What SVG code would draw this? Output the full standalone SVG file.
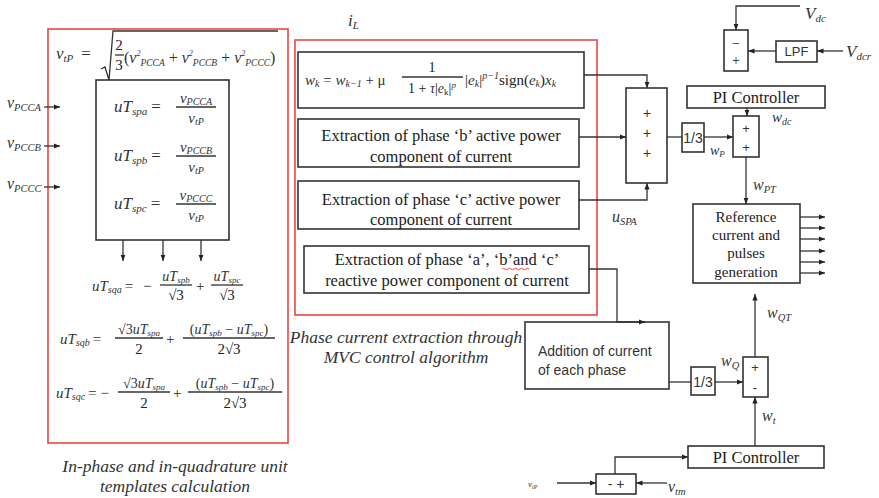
<svg xmlns="http://www.w3.org/2000/svg" width="879" height="498" viewBox="0 0 879 498">
<defs>
<style>
.red{fill:none;stroke:#ee4444;stroke-width:1.6}
.box{fill:#fff;stroke:#333;stroke-width:1.6}
.ln{fill:none;stroke:#333;stroke-width:1.3}
.m{font-family:"Liberation Serif",serif;font-style:italic;fill:#333}
.r{font-family:"Liberation Serif",serif;fill:#222}
.s{font-family:"Liberation Sans",sans-serif;fill:#333}
.cap{font-family:"Liberation Serif",serif;font-style:italic;fill:#333;font-size:17.5px}
.up{font-family:"Liberation Serif",serif;font-style:normal}
</style>
<marker id="a" viewBox="0 0 10 10" refX="10" refY="5" markerWidth="5" markerHeight="5" orient="auto"><path d="M0,1 L10,5 L0,9 z" fill="#222"/></marker>
</defs>
<rect width="879" height="498" fill="#fff"/>

<g id="templates">
<rect class="red" x="48" y="29" width="240" height="414"/>
<text class="m" x="56" y="59" font-size="17">v<tspan font-size="11" dy="3">tP</tspan><tspan class="up" dy="-3" dx="8">=</tspan></text>
<path class="ln" d="M101,69 L105,67 L109,80 L113,31 L278,31"/>
<text class="r" x="119" y="50" font-size="15" text-anchor="middle">2</text>
<line class="ln" x1="115" y1="55" x2="124" y2="55"/>
<text class="r" x="119" y="70" font-size="15" text-anchor="middle">3</text>
<text class="m" x="124" y="63" font-size="16"><tspan class="up">(</tspan>v<tspan font-size="8" dy="-7">2</tspan><tspan font-size="9.5" dy="10">PCCA</tspan><tspan class="up" dy="-3"> + </tspan>v<tspan font-size="8" dy="-7">2</tspan><tspan font-size="9.5" dy="10">PCCB</tspan><tspan class="up" dy="-3"> + </tspan>v<tspan font-size="8" dy="-7">2</tspan><tspan font-size="9.5" dy="10">PCCC</tspan><tspan class="up" dy="-3">)</tspan></text>
<rect class="box" x="96" y="80" width="133" height="160"/>
<text class="m" x="114" y="112" font-size="17">uT<tspan font-size="11" dy="3">spa</tspan><tspan class="up" dy="-3" dx="4">=</tspan></text>
<text class="m" x="196" y="103" font-size="15" text-anchor="middle">v<tspan font-size="10" dy="2">PCCA</tspan></text>
<line class="ln" x1="176" y1="107" x2="216" y2="107"/>
<text class="m" x="196" y="123" font-size="15" text-anchor="middle">v<tspan font-size="10" dy="2">tP</tspan></text>
<text class="m" x="114" y="161" font-size="17">uT<tspan font-size="11" dy="3">spb</tspan><tspan class="up" dy="-3" dx="4">=</tspan></text>
<text class="m" x="196" y="152" font-size="15" text-anchor="middle">v<tspan font-size="10" dy="2">PCCB</tspan></text>
<line class="ln" x1="176" y1="156" x2="216" y2="156"/>
<text class="m" x="196" y="172" font-size="15" text-anchor="middle">v<tspan font-size="10" dy="2">tP</tspan></text>
<text class="m" x="114" y="209" font-size="17">uT<tspan font-size="11" dy="3">spc</tspan><tspan class="up" dy="-3" dx="4">=</tspan></text>
<text class="m" x="196" y="200" font-size="15" text-anchor="middle">v<tspan font-size="10" dy="2">PCCC</tspan></text>
<line class="ln" x1="176" y1="204" x2="216" y2="204"/>
<text class="m" x="196" y="220" font-size="15" text-anchor="middle">v<tspan font-size="10" dy="2">tP</tspan></text>

<text class="m" x="92" y="291" font-size="15">uT<tspan font-size="10" dy="2">sqa</tspan><tspan class="up" dy="-2" dx="3">=</tspan></text>
<text class="r" x="143" y="291" font-size="15">−</text>
<text class="m" x="176" y="281" font-size="14" text-anchor="middle">uT<tspan font-size="9" dy="2">spb</tspan></text>
<line class="ln" x1="160" y1="285" x2="192" y2="285"/>
<text class="r" x="176" y="300" font-size="15" text-anchor="middle">√3</text>
<text class="r" x="196" y="291" font-size="15">+</text>
<text class="m" x="227" y="281" font-size="14" text-anchor="middle">uT<tspan font-size="9" dy="2">spc</tspan></text>
<line class="ln" x1="211" y1="285" x2="243" y2="285"/>
<text class="r" x="227" y="300" font-size="15" text-anchor="middle">√3</text>

<text class="m" x="60" y="344" font-size="15">uT<tspan font-size="10" dy="2">sqb</tspan><tspan class="up" dy="-2" dx="3">=</tspan></text>
<text class="m" x="139" y="334" font-size="14" text-anchor="middle"><tspan class="up">√3</tspan>uT<tspan font-size="9" dy="2">spa</tspan></text>
<line class="ln" x1="115" y1="338" x2="163" y2="338"/>
<text class="r" x="139" y="354" font-size="15" text-anchor="middle">2</text>
<text class="r" x="166" y="344" font-size="15">+</text>
<text class="m" x="229" y="334" font-size="14" text-anchor="middle"><tspan class="up">(</tspan>uT<tspan font-size="9" dy="2">spb</tspan><tspan class="up" dy="-2"> − </tspan>uT<tspan font-size="9" dy="2">spc</tspan><tspan class="up" dy="-2">)</tspan></text>
<line class="ln" x1="183" y1="338" x2="275" y2="338"/>
<text class="r" x="229" y="354" font-size="15" text-anchor="middle">2√3</text>

<text class="m" x="56" y="398" font-size="15">uT<tspan font-size="10" dy="2">sqc</tspan><tspan class="up" dy="-2" dx="3">=  −</tspan></text>
<text class="m" x="144" y="388" font-size="14" text-anchor="middle"><tspan class="up">√3</tspan>uT<tspan font-size="9" dy="2">spa</tspan></text>
<line class="ln" x1="118" y1="392" x2="170" y2="392"/>
<text class="r" x="144" y="408" font-size="15" text-anchor="middle">2</text>
<text class="r" x="173" y="398" font-size="15">+</text>
<text class="m" x="235" y="388" font-size="14" text-anchor="middle"><tspan class="up">(</tspan>uT<tspan font-size="9" dy="2">spb</tspan><tspan class="up" dy="-2"> − </tspan>uT<tspan font-size="9" dy="2">spc</tspan><tspan class="up" dy="-2">)</tspan></text>
<line class="ln" x1="188" y1="392" x2="282" y2="392"/>
<text class="r" x="235" y="408" font-size="15" text-anchor="middle">2√3</text>

<text class="cap" x="175" y="472" text-anchor="middle">In-phase and in-quadrature unit</text>
<text class="cap" x="175" y="492" text-anchor="middle">templates calculation</text>
</g>

<g id="inputs">
<text class="m" x="7" y="108" font-size="16">v<tspan font-size="10.5" dy="3">PCCA</tspan></text>
<text class="m" x="7" y="148" font-size="16">v<tspan font-size="10.5" dy="3">PCCB</tspan></text>
<text class="m" x="7" y="189" font-size="16">v<tspan font-size="10.5" dy="3">PCCC</tspan></text>
</g>

<g id="mvc">
<rect class="red" x="295" y="40" width="302" height="275"/>
<text class="m" x="348" y="26" font-size="17">i<tspan font-size="11" dy="3">L</tspan></text>
<rect class="box" x="298" y="52" width="286" height="56"/>
<text class="m" x="305" y="85" font-size="15">w<tspan font-size="10" dy="2">k</tspan><tspan class="up" dy="-2"> = </tspan>w<tspan font-size="10" dy="2">k−1</tspan><tspan class="up" dy="-2"> + μ</tspan></text>
<text class="r" x="432" y="72" font-size="14" text-anchor="middle">1</text>
<line class="ln" x1="402" y1="77" x2="463" y2="77"/>
<text class="r" x="432" y="93" font-size="14" text-anchor="middle">1 + <tspan class="m">τ</tspan>|<tspan class="m">e</tspan><tspan font-size="9" dy="2">k</tspan><tspan dy="-2">|</tspan><tspan class="m" font-size="9" dy="-5">p</tspan></text>
<text class="r" x="465" y="85" font-size="15">|<tspan class="m">e</tspan><tspan class="m" font-size="10" dy="2">k</tspan><tspan dy="-2">|</tspan><tspan class="m" font-size="10" dy="-6">p−1</tspan><tspan dy="6">sign(</tspan><tspan class="m">e</tspan><tspan class="m" font-size="10" dy="2">k</tspan><tspan dy="-2">)</tspan><tspan class="m">x</tspan><tspan class="m" font-size="10" dy="2">k</tspan></text>
<rect class="box" x="298" y="119" width="281" height="48"/>
<text class="r" x="441" y="141" font-size="16.5" text-anchor="middle">Extraction of phase ‘b’ active power</text>
<text class="r" x="441" y="162" font-size="16.5" text-anchor="middle">component of current</text>
<rect class="box" x="298" y="181" width="281" height="48"/>
<text class="r" x="441" y="205" font-size="16.5" text-anchor="middle">Extraction of phase ‘c’ active power</text>
<text class="r" x="441" y="225" font-size="16.5" text-anchor="middle">component of current</text>
<rect class="box" x="304" y="246" width="285" height="47"/>
<text class="r" x="447" y="265" font-size="16.5" text-anchor="middle">Extraction of phase ‘a’, ‘b’and ‘c’</text>
<text class="r" x="447" y="286" font-size="16.5" text-anchor="middle">reactive power component of current</text>
<path d="M502,269 q1.5,-1.5 3,0 t3,0 t3,0 t3,0 t3,0 t3,0 t3,0 t3,0 t3,0" fill="none" stroke="#e33" stroke-width="0.9"/>
<text class="cap" x="406" y="343" text-anchor="middle">Phase current extraction through</text>
<text class="cap" x="406" y="363" text-anchor="middle">MVC control algorithm</text>
</g>

<g id="sum3">
<rect class="box" x="626" y="88" width="41" height="95"/>
<text class="s" x="647" y="118" font-size="14" text-anchor="middle" fill="#6a4a20">+</text>
<text class="s" x="647" y="138" font-size="14" text-anchor="middle" fill="#6a4a20">+</text>
<text class="s" x="647" y="158" font-size="14" text-anchor="middle" fill="#6a4a20">+</text>
<text class="m" x="612" y="222" font-size="16">u<tspan font-size="10.5" dy="3">SPA</tspan></text>
</g>

<g id="div1">
<rect class="box" x="682" y="123" width="22" height="29"/>
<text class="s" x="693" y="143" font-size="14" text-anchor="middle">1/3</text>
<text class="m" x="710" y="155" font-size="14">w<tspan font-size="9" dy="2">P</tspan></text>
</g>

<g id="sumP">
<rect class="box" x="733" y="116" width="26" height="41"/>
<text class="s" x="746" y="133" font-size="13" text-anchor="middle">+</text>
<text class="s" x="746" y="152" font-size="13" text-anchor="middle">+</text>
<text class="m" x="772" y="122" font-size="15">w<tspan font-size="10" dy="3">dc</tspan></text>
<text class="m" x="753" y="190" font-size="16">w<tspan font-size="10.5" dy="3">PT</tspan></text>
</g>

<g id="pi1">
<rect class="box" x="687" y="86" width="138" height="22"/>
<text class="r" x="756" y="103" font-size="16.5" text-anchor="middle">PI Controller</text>
</g>

<g id="subdc">
<rect class="box" x="724" y="30" width="24" height="41"/>
<text class="r" x="736" y="48" font-size="14" text-anchor="middle">−</text>
<text class="r" x="736" y="65" font-size="14" text-anchor="middle">+</text>
<text class="m" x="805" y="19" font-size="17">V<tspan font-size="11" dy="3">dc</tspan></text>
<text class="m" x="846" y="57" font-size="17">V<tspan font-size="11" dy="3">dcr</tspan></text>
</g>

<g id="lpf">
<rect class="box" x="776" y="41" width="41" height="21"/>
<text class="s" x="796.5" y="56" font-size="13" text-anchor="middle">LPF</text>
</g>

<g id="ref">
<rect class="box" x="693" y="204" width="107" height="79"/>
<text class="r" x="746" y="222" font-size="15" text-anchor="middle">Reference</text>
<text class="r" x="746" y="240" font-size="15" text-anchor="middle">current and</text>
<text class="r" x="746" y="258" font-size="15" text-anchor="middle">pulses</text>
<text class="r" x="746" y="277" font-size="15" text-anchor="middle">generation</text>
</g>

<g id="addition">
<rect class="box" x="525" y="322" width="144" height="67"/>
<text class="s" x="538" y="356" font-size="14">Addition of current</text>
<text class="s" x="538" y="375" font-size="14">of each phase</text>
</g>

<g id="div2">
<rect class="box" x="691" y="367" width="24" height="28"/>
<text class="s" x="703" y="387" font-size="14" text-anchor="middle">1/3</text>
<text class="m" x="721" y="366" font-size="16">w<tspan font-size="10.5" dy="3">Q</tspan></text>
</g>

<g id="sumQ">
<rect class="box" x="743" y="357" width="25" height="40"/>
<text class="s" x="755" y="372" font-size="13" text-anchor="middle">+</text>
<text class="s" x="755" y="392" font-size="13" text-anchor="middle">-</text>
<text class="m" x="767" y="318" font-size="16">w<tspan font-size="10.5" dy="3">QT</tspan></text>
<text class="m" x="762" y="421" font-size="16">w<tspan font-size="10.5" dy="3">t</tspan></text>
</g>

<g id="pi2">
<rect class="box" x="688" y="446" width="136" height="22"/>
<text class="r" x="756" y="463" font-size="16.5" text-anchor="middle">PI Controller</text>
</g>

<g id="subac">
<rect class="box" x="596" y="474" width="40" height="20"/>
<text class="s" x="616" y="489" font-size="14" text-anchor="middle">- +</text>
<text class="m" x="528" y="487" font-size="9">v<tspan font-size="6" dy="2">tP</tspan></text>
<text class="m" x="668" y="492" font-size="16">v<tspan font-size="10.5" dy="3">tm</tspan></text>
</g>

<g id="connectors" class="ln" marker-end="url(#a)">
<line x1="44" y1="107" x2="60" y2="107"/>
<line x1="44" y1="146" x2="60" y2="146"/>
<line x1="44" y1="187" x2="60" y2="187"/>
<line x1="123" y1="240" x2="123" y2="261"/>
<line x1="163" y1="240" x2="163" y2="261"/>
<line x1="201" y1="240" x2="201" y2="261"/>
<polyline points="584,75 647,75 647,88"/>
<line x1="579" y1="137" x2="626" y2="137"/>
<polyline points="579,200 647,200 647,183"/>
<line x1="667" y1="137" x2="682" y2="137" marker-end="none"/>
<line x1="704" y1="137" x2="733" y2="137"/>
<line x1="747" y1="108" x2="747" y2="116"/>
<line x1="746" y1="157" x2="746" y2="204"/>
<polyline points="800,6 736,6 736,30"/>
<line x1="843" y1="51" x2="817" y2="51"/>
<line x1="776" y1="51" x2="748" y2="51"/>
<line x1="800" y1="217" x2="825" y2="217"/>
<line x1="800" y1="228" x2="825" y2="228"/>
<line x1="800" y1="239" x2="825" y2="239"/>
<line x1="800" y1="251" x2="825" y2="251"/>
<line x1="800" y1="262" x2="825" y2="262"/>
<line x1="800" y1="273" x2="825" y2="273"/>
<polyline points="589,269 617,269 617,322 645,322"/>
<line x1="669" y1="382" x2="691" y2="382" marker-end="none"/>
<line x1="715" y1="382" x2="743" y2="382"/>
<line x1="755" y1="357" x2="755" y2="294"/>
<line x1="755" y1="446" x2="755" y2="397"/>
<polyline points="615,474 615,457 688,457"/>
<line x1="557" y1="483" x2="596" y2="483"/>
<line x1="667" y1="483" x2="636" y2="483"/>
</g>
</svg>
